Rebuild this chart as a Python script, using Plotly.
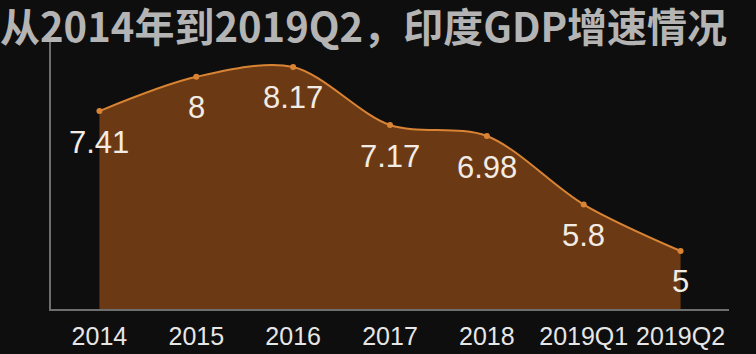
import plotly.graph_objects as go

categories = ["2014", "2015", "2016", "2017", "2018", "2019Q1", "2019Q2"]
growth = [7.41, 8, 8.17, 7.17, 6.98, 5.8, 5]
labels = ["7.41", "8", "8.17", "7.17", "6.98", "5.8", "5"]
title_text = "从2014年到2019Q2，印度GDP增速情况"

fig = go.Figure()
fig.add_trace(go.Scatter(
    x=categories, y=growth,
    mode="lines+markers",
    line=dict(color="#d98434", width=2, shape="spline", smoothing=0.9),
    marker=dict(color="#d98434", size=6),
    fill="tozeroy",
    fillcolor="#6b3a14",
    hoverinfo="skip",
))

for i, (v, t) in enumerate(zip(growth, labels)):
    fig.add_annotation(
        x=i, y=v, text=t, showarrow=False, yshift=-31,
        font=dict(family="Liberation Sans, Arial, sans-serif", size=31, color="#f2ece4"),
    )

fig.update_layout(
    width=756, height=354,
    margin=dict(l=51, r=27, t=42, b=45, autoexpand=False),
    paper_bgcolor="#0e0e0e",
    plot_bgcolor="#0e0e0e",
    showlegend=False,
    title=dict(
        text="<b>" + title_text + "</b>",
        x=0.0, xanchor="left", xref="container",
        y=1 - 28 / 354, yanchor="middle", yref="container",
        pad=dict(l=0, r=0, t=0, b=0),
        font=dict(family="Noto Sans CJK SC", size=40, color="#b4b4b4"),
    ),
    xaxis=dict(
        type="category", range=[-0.5, 6.5], automargin=False,
        showgrid=False, zeroline=False,
        showline=True, linecolor="#6e6e6e", linewidth=1.5,
        ticks="", ticklabelstandoff=4,
        tickfont=dict(family="Liberation Sans, Arial, sans-serif", size=25, color="#e6e6e6"),
    ),
    yaxis=dict(
        range=[4, 8.6], showgrid=False, zeroline=False, automargin=False,
        showline=True, linecolor="#6e6e6e", linewidth=1.5,
        showticklabels=False, ticks="",
    ),
)

fig.write_html("out.html")
